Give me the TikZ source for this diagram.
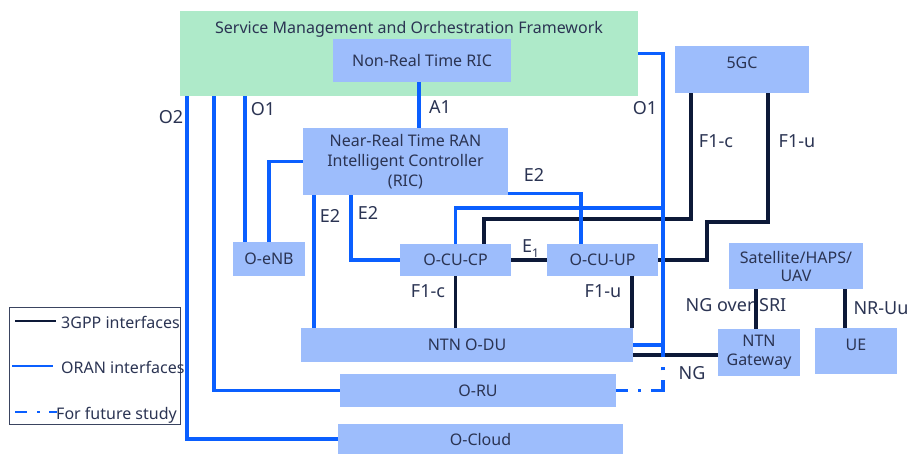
\documentclass[tikz,border=0pt]{standalone}
\usepackage{fontspec}
\setmainfont{Noto Sans}
\definecolor{boxblue}{HTML}{9DBDFC}
\definecolor{smogreen}{HTML}{AEEAC9}
\definecolor{oranblue}{HTML}{0A5FFF}
\definecolor{gppnavy}{HTML}{0D1938}
\definecolor{txt}{HTML}{2B3453}
\definecolor{legendframe}{HTML}{3A4460}
\tikzset{
  wh/.style 2 args={minimum width=#1pt, minimum height=#2pt},
  box/.style={fill=boxblue, draw=none, inner sep=0pt, align=center},
  smobox/.style={fill=smogreen, draw=none, inner sep=0pt},
  lbl/.style={inner sep=0pt, text height=11.4pt, text depth=0pt},
  iflbl/.style={inner sep=0pt, font=\fontsize{18}{22}\selectfont, text height=12.9pt, text depth=0pt},
  oran/.style={draw=oranblue, line width=3.2pt},
  gpp/.style={draw=gppnavy, line width=3.1pt},
  future/.style={draw=oranblue, line width=3.2pt,
    dash pattern=on 12pt off 10pt on 3pt off 10pt on 22pt off 10pt on 3pt off 10pt on 20pt off 0pt},
}

\begin{document}
\begin{tikzpicture}[x=1pt, y=-1pt, font=\fontsize{16}{20}\selectfont, text=txt]
\useasboundingbox (0,0) rectangle (912,454);

% ---- boxes ----
\node[smobox, wh={458}{85}] (smo) at (409,53.5) {};
\node[lbl] (smotitle) at (409,28) {Service Management and Orchestration Framework};
\node[box, wh={178}{43}] (nrt) at (422,60.5) {Non-Real Time RIC};
\node[box, wh={205}{67}, font=\fontsize{16}{20}\selectfont] (ric) at (405.5,161.5)
  {Near-Real Time RAN\\Intelligent Controller\\(RIC)};
\node[box, wh={72}{34}] (oenb) at (269,259) {O-eNB};
\node[box, wh={111}{32}] (cucp) at (455.5,260) {O-CU-CP};
\node[box, wh={111}{32}] (cuup) at (602.5,260) {O-CU-UP};
\node[box, wh={134}{47}] (fivegc) at (742,69.5) {};
\node[lbl] (fivegctxt) at (742,63) {5GC};
\node[box, wh={332}{34}] (odu) at (467,345) {NTN O-DU};
\node[box, wh={276}{33}] (oru) at (478,390.5) {O-RU};
\node[box, wh={285}{30}] (ocloud) at (480.5,439) {O-Cloud};
\node[box, wh={134}{46}, font=\fontsize{16}{18}\selectfont] (sat) at (796,266) {Satellite/HAPS/\\UAV};
\node[box, wh={82}{47}, font=\fontsize{16}{19}\selectfont] (ntngw) at (759,352.5) {NTN\\Gateway};
\node[box, wh={82}{46}] (ue) at (856,351) {};
\node[lbl] (uetxt) at (856,345) {UE};

% ---- routing points ----
\coordinate (xA1) at (419,0);
\coordinate (xO1) at (245,0);
\coordinate (xORU) at (214,0);
\coordinate (xO2) at (187,0);
\coordinate (xE2du) at (314,0);
\coordinate (xE2cp) at (351,0);
\coordinate (xE2up) at (581,0);
\coordinate (xF1u) at (632,0);
\coordinate (xSRI) at (756,0);
\coordinate (xUu) at (845,0);
\coordinate (yNG) at (0,355);
\coordinate (omj) at (663,345);
\coordinate (omt) at (663,208);
\coordinate (fc1) at (691,219);
\coordinate (fc2) at (484,219);
\coordinate (fu1) at (768,222);
\coordinate (fu2) at (707,222);

% ---- 3GPP interfaces ----
\draw[gpp] (cucp.east) -- (cuup.west);
\draw[gpp] (cucp.south) -- (odu.north -| cucp.south);
\draw[gpp] (cuup.south -| xF1u) -- (odu.north -| xF1u);
\draw[gpp] (fivegc.south -| fc1) -- (fc1) -- (fc2) -- (cucp.north -| fc2);
\draw[gpp] (fivegc.south -| fu1) -- (fu1) -- (fu2) |- (cuup.east);
\draw[gpp] (odu.east |- yNG) -- (ntngw.west |- yNG);
\draw[gpp] (sat.south -| xSRI) -- (ntngw.north -| xSRI);
\draw[gpp] (sat.south -| xUu) -- (ue.north -| xUu);

% ---- O-RAN interfaces ----
\draw[oran] (nrt.south -| xA1) -- (ric.north -| xA1);
\draw[oran] (smo.south -| xO1) -- (oenb.north -| xO1);
\draw[oran] (ric.west) -| (oenb.north);
\draw[oran] (smo.east) -| (omj) -- (odu.east);
\draw[oran] (cucp.north) |- (omt);
\draw[oran] ([yshift=2pt]ric.south east) -| (cuup.north -| xE2up);
\draw[oran] (ric.south -| xE2cp) |- (cucp.west);
\draw[oran] (ric.south -| xE2du) -- (odu.north -| xE2du);
\draw[oran] (smo.south -| xORU) |- (oru.west);
\draw[oran] (smo.south -| xO2) |- (ocloud.west);
\draw[future] (oru.east) -| (omj);

% ---- interface labels ----
\node[iflbl] (lO2) at (171,117) {O2};
\node[iflbl] (lO1a) at (263,109) {O1};
\node[iflbl] (lA1) at (440,107) {A1};
\node[iflbl] (lO1b) at (645,108) {O1};
\node[iflbl] (lF1cu) at (716,141) {F1-c};
\node[iflbl] (lF1uu) at (797,141) {F1-u};
\node[iflbl] (lE2up) at (534,175) {E2};
\node[iflbl] (lE2du) at (330,216) {E2};
\node[iflbl] (lE2cp) at (368,213) {E2};
\node[iflbl, anchor=west] (lE1) at (522,246) {E\raisebox{-5pt}{\fontsize{12}{12}\selectfont 1}};
\node[iflbl] (lF1cd) at (428,291) {F1-c};
\node[iflbl] (lF1ud) at (603,291) {F1-u};
\node[iflbl] (lNG) at (692,373) {NG};
\node[iflbl] (lSRI) at (736,305) {NG over SRI};
\node[iflbl] (lUu) at (881,308) {NR-Uu};

% ---- legend ----
\draw[draw=legendframe, line width=0.8pt] (9,307) rectangle (180,424);
\draw[gpp, line width=2.2pt] (15,321) -- (56,321);
\node[inner sep=0pt, anchor=base west] (lg1) at (61,328) {3GPP interfaces};
\draw[oran, line width=2.4pt] (12,366) -- (53,366);
\node[inner sep=0pt, anchor=base west] (lg2) at (61,373) {ORAN interfaces};
\draw[oran, line width=2.4pt, dash pattern=on 12pt off 10pt on 3pt off 9pt on 8pt off 20pt] (15,412) -- (57,412);
\node[inner sep=0pt, anchor=base west] (lg3) at (56,419) {For future study};
\end{tikzpicture}
\end{document}
